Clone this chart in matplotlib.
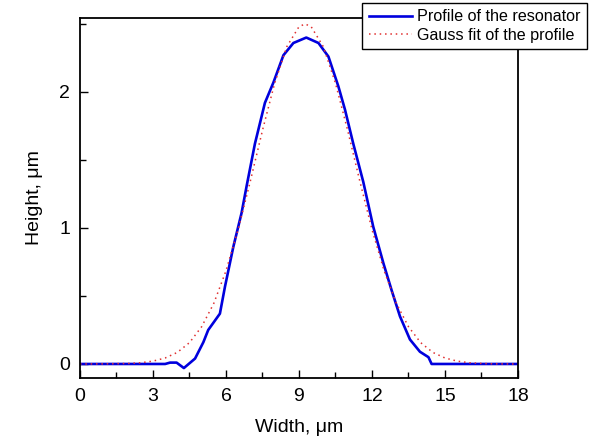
import matplotlib
matplotlib.use('Agg')

import matplotlib.pyplot as plt
from matplotlib.ticker import MultipleLocator

plt.rcParams['font.family'] = ['Liberation Sans', 'DejaVu Sans']

prof_x = [0, 3.5, 3.70, 3.97, 4.27, 4.73, 5.07, 5.27, 5.75, 5.96, 6.30, 6.64, 6.85,
          7.19, 7.60, 7.95, 8.36, 8.77, 9.30, 9.80, 10.21, 10.62, 10.89,
          11.23, 11.64, 12.05, 12.47, 12.81, 13.15, 13.56, 13.97, 14.32, 14.45, 18]
prof_y = [0, 0, 0.01, 0.01, -0.03, 0.04, 0.16, 0.25, 0.37, 0.57, 0.86, 1.11, 1.31,
          1.62, 1.92, 2.07, 2.27, 2.36, 2.40, 2.36, 2.26, 2.04, 1.87,
          1.62, 1.34, 1.01, 0.74, 0.54, 0.35, 0.18, 0.09, 0.05, 0.0, 0]

# gauss fit curve, sampled points
fit_x = [0, 1, 2, 2.5, 3, 3.5, 4, 4.5, 5, 5.5, 6, 6.5, 7, 7.5, 8, 8.5, 9, 9.25,
         9.5, 10, 10.5, 11, 11.5, 12, 12.5, 13, 13.5, 14, 14.5, 15, 15.5, 16, 16.5, 17, 18]
fit_y = [0, 0.001, 0.004, 0.009, 0.021, 0.044, 0.085, 0.157, 0.274, 0.446, 0.685,
         0.989, 1.344, 1.718, 2.064, 2.333, 2.48, 2.50, 2.48, 2.333, 2.064, 1.718,
         1.344, 0.989, 0.685, 0.446, 0.274, 0.157, 0.085, 0.044, 0.021, 0.009, 0.004,
         0.001, 0]

fig = plt.figure(figsize=(5.92, 4.47), dpi=100)
ax = fig.add_axes([0.1351, 0.1544, 0.7399, 0.8054])

ax.plot(prof_x, prof_y, color='#0000dd', lw=1.9, label='Profile of the resonator')
ax.plot(fit_x, fit_y, color='#e03030', lw=1.1, ls=(0, (1, 2.5)), label='Gauss fit of the profile')

ax.set_xlim(0, 18)
ax.set_ylim(-0.103, 2.544)
ax.xaxis.set_major_locator(MultipleLocator(3))
ax.xaxis.set_minor_locator(MultipleLocator(1.5))
ax.yaxis.set_major_locator(MultipleLocator(1))
ax.yaxis.set_minor_locator(MultipleLocator(0.5))
ax.tick_params(which='both', direction='in', labelsize=14, width=1.0)
ax.tick_params(which='major', length=6, pad=7)
ax.tick_params(which='minor', length=4)
for s in ax.spines.values():
    s.set_linewidth(1.3)

ax.set_xlabel('Width, μm', fontsize=14, labelpad=10)
ax.set_ylabel('Height, μm', fontsize=14, labelpad=12)

leg = fig.legend(loc='upper right', bbox_to_anchor=(587 / 592, 1 - 3 / 447),
                 fontsize=11.6, frameon=True, fancybox=False, framealpha=1,
                 edgecolor='black', borderpad=0.4, handlelength=2.7,
                 handletextpad=0.3, labelspacing=0.2, borderaxespad=0)
leg.get_frame().set_linewidth(1.0)

plt.savefig('out.png', dpi=100)
